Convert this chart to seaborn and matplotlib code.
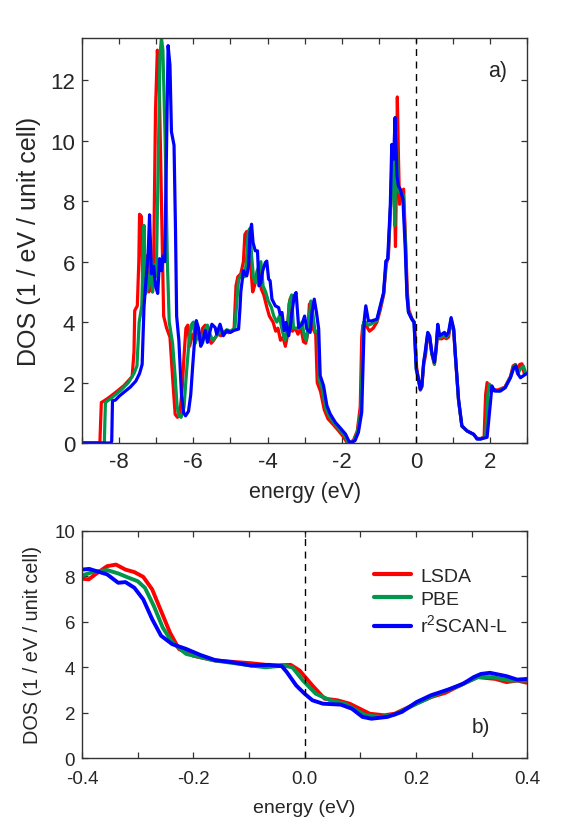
import matplotlib
matplotlib.use('Agg')
import matplotlib.pyplot as plt
import pandas as pd
import seaborn as sns
from matplotlib.ticker import MultipleLocator, FormatStrFormatter

sns.set_theme(style="ticks")
plt.rcParams['font.family'] = ['Liberation Sans', 'DejaVu Sans']
plt.rcParams['mathtext.fontset'] = 'custom'
plt.rcParams['mathtext.rm'] = 'Liberation Sans'
plt.rcParams['axes.unicode_minus'] = False

methods = ['LSDA', 'PBE', r'r$^2$SCAN-L']
colors = ['#ff0000', '#00964b', '#0000ff']

# ---- panel a): wide energy window ----
lsda_e = [-9.0, -8.52, -8.48, -8.40, -8.28, -8.10, -7.87, -7.65, -7.60, -7.58, -7.51, -7.47, -7.45, -7.40,
          -7.36, -7.30, -7.25, -7.20, -7.15, -7.10, -7.07, -7.02, -6.97, -6.92, -6.86, -6.80, -6.72, -6.63,
          -6.55, -6.49, -6.43, -6.37, -6.30, -6.25, -6.20, -6.15, -6.10, -6.02, -5.95, -5.88, -5.82, -5.75,
          -5.68, -5.60, -5.52, -5.45, -5.35, -5.25, -5.15, -5.05, -4.95, -4.90, -4.85, -4.80, -4.72, -4.65,
          -4.61, -4.56, -4.52, -4.45, -4.40, -4.35, -4.28, -4.22, -4.17, -4.10, -4.02, -3.95, -3.85, -3.78,
          -3.72, -3.65, -3.58, -3.52, -3.47, -3.42, -3.38, -3.33, -3.25, -3.18, -3.10, -3.03, -2.97, -2.92,
          -2.87, -2.83, -2.78, -2.70, -2.66, -2.57, -2.47, -2.37, -2.22, -2.08, -1.95, -1.85, -1.78, -1.68,
          -1.58, -1.50, -1.46, -1.43, -1.35, -1.25, -1.15, -1.05, -0.96, -0.87, -0.80, -0.74, -0.68, -0.63,
          -0.58, -0.55, -0.52, -0.50, -0.47, -0.44, -0.40, -0.33, -0.28, -0.23, -0.19, -0.10, -0.04, 0.02,
          0.07, 0.12, 0.16, 0.21, 0.26, 0.32, 0.37, 0.43, 0.50, 0.55, 0.59, 0.64, 0.70, 0.77, 0.82, 0.88,
          0.95, 1.02, 1.06, 1.15, 1.24, 1.38, 1.56, 1.65, 1.75, 1.84, 1.88, 1.92, 2.00, 2.20, 2.40, 2.55,
          2.62, 2.68, 2.74, 2.80, 2.86, 2.92, 3.05]
lsda_d = [0, 0, 1.34, 1.40, 1.50, 1.67, 1.90, 2.20, 3.0, 4.38, 4.54, 6.0, 7.57, 7.50,
          4.87, 5.00, 6.20, 5.0, 5.2, 5.0, 6.0, 11.0, 13.0, 12.0, 8.0, 4.2, 3.8, 3.5,
          2.0, 0.95, 0.85, 0.9, 1.8, 2.9, 3.8, 3.9, 3.2, 3.6, 3.55, 3.7, 3.4, 3.8,
          3.9, 3.5, 3.3, 3.4, 3.6, 3.55, 3.7, 3.65, 3.7, 3.8, 5.2, 5.5, 5.6, 6.0,
          6.9, 7.0, 6.2, 5.8, 5.0, 5.2, 5.7, 5.8, 5.1, 4.9, 4.5, 4.2, 4.0, 3.7,
          3.8, 3.4, 3.5, 3.2, 3.5, 4.6, 4.8, 3.7, 3.8, 3.6, 3.8, 3.35, 3.3, 3.6,
          4.6, 4.4, 3.8, 3.6, 2.0, 1.7, 1.1, 0.8, 0.6, 0.4, 0.2, 0.0, 0.0, 0.1,
          0.4, 1.2, 3.5, 3.9, 3.9, 3.7, 3.8, 4.0, 4.4, 4.9, 5.9, 6.2, 7.9, 9.5,
          8.2, 6.5, 9.0, 11.45, 9.5, 7.9, 8.3, 8.4, 6.7, 5.0, 4.4, 4.1, 4.0, 2.5,
          2.1, 1.75, 1.85, 2.6, 2.9, 3.6, 3.5, 2.95, 2.6, 3.1, 3.8, 3.45, 3.45, 3.5, 3.45, 3.5,
          4.05, 3.7, 2.95, 1.4, 0.55, 0.4, 0.28, 0.15, 0.15, 0.2, 1.6, 2.0, 1.8, 1.75, 1.85, 2.2,
          2.55, 2.6, 2.3, 2.6, 2.62, 2.3, 2.3]

pbe_e = [-9.0, -8.40, -8.37, -8.25, -8.10, -7.95, -7.75, -7.60, -7.52, -7.46, -7.39, -7.36, -7.33, -7.29,
         -7.20, -7.14, -7.10, -7.05, -7.00, -6.95, -6.90, -6.86, -6.82, -6.76, -6.70, -6.65, -6.56, -6.49,
         -6.44, -6.39, -6.33, -6.25, -6.18, -6.12, -6.06, -6.00, -5.95, -5.90, -5.82, -5.75, -5.70, -5.62,
         -5.55, -5.48, -5.40, -5.30, -5.20, -5.10, -5.00, -4.88, -4.82, -4.78, -4.70, -4.62, -4.57, -4.52,
         -4.47, -4.43, -4.38, -4.32, -4.25, -4.18, -4.12, -4.05, -3.98, -3.90, -3.83, -3.75, -3.68, -3.60,
         -3.53, -3.47, -3.40, -3.35, -3.30, -3.22, -3.14, -3.07, -3.00, -2.95, -2.89, -2.83, -2.78, -2.72,
         -2.64, -2.61, -2.53, -2.43, -2.34, -2.20, -2.06, -1.92, -1.83, -1.75, -1.66, -1.57, -1.48, -1.43,
         -1.41, -1.36, -1.28, -1.18, -1.05, -0.96, -0.87, -0.80, -0.75, -0.68, -0.64, -0.60, -0.57, -0.53,
         -0.49, -0.45, -0.41, -0.34, -0.28, -0.24, -0.20, -0.11, -0.05, 0.01, 0.07, 0.12, 0.16, 0.21,
         0.25, 0.32, 0.37, 0.43, 0.50, 0.55, 0.59, 0.64, 0.70, 0.77, 0.82, 0.88, 0.95, 1.02, 1.06, 1.15,
         1.24, 1.38, 1.56, 1.65, 1.75, 1.88, 1.94, 1.98, 2.06, 2.25, 2.40, 2.55, 2.63, 2.70, 2.75, 2.82,
         2.90, 2.96, 3.05]
pbe_d = [0, 0, 1.34, 1.45, 1.6, 1.75, 2.0, 2.3, 2.55, 4.0, 4.54, 6.0, 7.2, 4.94,
         5.2, 6.1, 5.0, 5.9, 5.5, 9.0, 12.8, 13.4, 13.0, 10.0, 6.0, 4.0, 3.3, 2.2,
         1.24, 0.9, 0.85, 1.2, 2.4, 3.3, 3.9, 4.0, 3.3, 3.5, 3.6, 3.3, 3.7, 3.9,
         3.6, 3.4, 3.5, 3.7, 3.6, 3.75, 3.7, 3.8, 4.8, 5.4, 5.6, 5.5, 6.0, 7.0,
         7.1, 6.2, 5.5, 5.3, 5.8, 6.0, 5.2, 5.0, 4.7, 4.5, 4.2, 4.0, 4.2, 3.7,
         3.4, 3.8, 4.7, 4.9, 3.8, 3.8, 3.8, 4.0, 3.5, 3.4, 4.0, 4.7, 4.3, 3.7,
         3.7, 2.1, 1.8, 1.15, 0.9, 0.65, 0.45, 0.25, 0.02, 0.02, 0.1, 0.4, 1.1, 3.4,
         4.0, 4.0, 3.9, 3.95, 4.05, 4.5, 4.95, 6.0, 6.1, 7.9, 9.6, 8.8, 7.2, 10.3,
         8.6, 8.3, 8.3, 8.2, 6.6, 4.9, 4.35, 4.1, 4.0, 2.45, 2.1, 1.78, 1.87, 2.65,
         2.95, 3.62, 3.52, 2.95, 2.62, 3.15, 3.85, 3.5, 3.52, 3.55, 3.5, 3.6, 4.1, 3.75, 2.98, 1.42,
         0.56, 0.4, 0.28, 0.14, 0.14, 0.2, 1.6, 1.95, 1.75, 1.72, 1.84, 2.18, 2.5, 2.58, 2.3, 2.45,
         2.55, 2.3, 2.32]

scan_e = [-9.0, -8.24, -8.20, -8.18, -8.10, -8.00, -7.85, -7.70, -7.55, -7.45, -7.38, -7.33, -7.27, -7.22,
          -7.18, -7.13, -7.07, -7.02, -6.96, -6.91, -6.86, -6.81, -6.77, -6.72, -6.68, -6.63, -6.59, -6.52,
          -6.48, -6.45, -6.39, -6.32, -6.26, -6.21, -6.13, -6.07, -6.02, -5.96, -5.92, -5.86, -5.80, -5.74,
          -5.68, -5.62, -5.55, -5.50, -5.41, -5.37, -5.28, -5.19, -5.10, -5.00, -4.92, -4.78, -4.74, -4.72,
          -4.65, -4.56, -4.51, -4.47, -4.43, -4.39, -4.33, -4.27, -4.23, -4.18, -4.13, -4.06, -4.02, -3.97,
          -3.93, -3.88, -3.79, -3.70, -3.66, -3.61, -3.55, -3.50, -3.43, -3.39, -3.34, -3.28, -3.23, -3.16,
          -3.07, -3.00, -2.94, -2.85, -2.80, -2.74, -2.68, -2.62, -2.58, -2.49, -2.40, -2.31, -2.17, -2.04,
          -1.90, -1.80, -1.73, -1.64, -1.55, -1.46, -1.41, -1.39, -1.35, -1.28, -1.19, -1.05, -0.96, -0.87,
          -0.81, -0.76, -0.69, -0.65, -0.60, -0.56, -0.51, -0.47, -0.42, -0.35, -0.29, -0.24, -0.20, -0.11,
          -0.05, 0.01, 0.07, 0.12, 0.16, 0.21, 0.25, 0.32, 0.37, 0.43, 0.50, 0.55, 0.59, 0.64, 0.70, 0.77,
          0.82, 0.88, 0.95, 1.02, 1.06, 1.15, 1.24, 1.38, 1.56, 1.65, 1.74, 1.92, 2.01, 2.05, 2.12, 2.28,
          2.41, 2.55, 2.64, 2.70, 2.76, 2.82, 2.95, 3.05]
scan_d = [0, 0, 0.05, 1.40, 1.42, 1.55, 1.70, 1.85, 2.05, 2.30, 2.60, 4.50, 5.50, 6.20,
          7.55, 5.60, 5.85, 5.20, 4.95, 6.10, 5.70, 6.20, 6.00, 10.0, 13.15, 12.5, 10.3, 9.85,
          7.00, 4.20, 3.40, 1.60, 1.00, 0.90, 1.05, 1.60, 2.50, 3.50, 4.05, 3.80, 3.20, 3.40,
          3.72, 3.33, 3.70, 3.93, 3.82, 3.60, 3.93, 3.55, 3.72, 3.66, 3.72, 3.77, 4.50, 5.00,
          5.70, 5.53, 5.86, 6.96, 7.24, 6.63, 6.36, 6.36, 5.20, 5.30, 5.70, 5.97, 6.02, 5.42,
          5.37, 4.76, 4.54, 4.48, 4.26, 4.32, 3.72, 3.99, 3.55, 3.82, 4.32, 4.87, 4.98, 3.82,
          3.93, 4.20, 3.77, 3.66, 4.32, 4.76, 4.32, 3.77, 2.23, 1.90, 1.24, 0.96, 0.68, 0.50,
          0.30, 0.05, 0.02, 0.08, 0.35, 1.02, 3.20, 4.10, 4.54, 4.04, 4.04, 4.10, 4.54, 4.98,
          6.02, 6.08, 7.85, 9.88, 9.39, 10.77, 8.84, 8.50, 8.40, 8.07, 6.53, 4.87, 4.32, 4.10,
          3.99, 2.45, 2.11, 1.78, 1.89, 2.67, 3.00, 3.66, 3.55, 3.00, 2.67, 3.22, 3.93, 3.55, 3.60, 3.66,
          3.55, 3.66, 4.15, 3.77, 3.00, 1.45, 0.57, 0.40, 0.29, 0.13, 0.13, 0.19, 1.34, 1.89, 1.72, 1.72,
          1.83, 2.16, 2.49, 2.55, 2.27, 2.16, 2.27, 2.33]

# ---- panel b): zoom around the Fermi level ----
lsda_e_b = [-0.400, -0.388, -0.374, -0.355, -0.339, -0.322, -0.306, -0.290, -0.274, -0.258, -0.242, -0.226,
            -0.200, -0.161, -0.096, -0.058, -0.025, -0.009, 0.014, 0.036, 0.059, 0.081, 0.117, 0.143, 0.162,
            0.194, 0.227, 0.253, 0.285, 0.311, 0.343, 0.363, 0.382, 0.400]
lsda_d_b = [7.89, 7.86, 8.12, 8.44, 8.51, 8.29, 8.18, 7.97, 7.42, 6.47, 5.52, 4.80,
            4.50, 4.29, 4.17, 4.07, 4.10, 3.85, 3.19, 2.61, 2.54, 2.39, 1.95, 1.88, 1.95,
            2.32, 2.68, 2.87, 3.27, 3.56, 3.48, 3.34, 3.41, 3.31]

pbe_e_b = [-0.400, -0.381, -0.355, -0.335, -0.316, -0.300, -0.287, -0.271, -0.255, -0.238, -0.213, -0.161,
           -0.096, -0.070, -0.038, -0.022, -0.003, 0.020, 0.046, 0.072, 0.110, 0.136, 0.162, 0.201, 0.240,
           0.279, 0.311, 0.337, 0.369, 0.400]
pbe_d_b = [8.03, 8.18, 8.27, 8.12, 7.93, 7.78, 7.49, 6.69, 5.74, 5.09, 4.58, 4.29,
           4.07, 3.99, 4.07, 3.99, 3.41, 2.83, 2.54, 2.39, 1.88, 1.81, 1.91, 2.39, 2.83,
           3.19, 3.56, 3.56, 3.41, 3.41]

scan_e_b = [-0.400, -0.387, -0.374, -0.355, -0.335, -0.322, -0.306, -0.290, -0.274, -0.258, -0.238, -0.213,
            -0.187, -0.161, -0.129, -0.096, -0.064, -0.041, -0.032, -0.015, 0.000, 0.014, 0.033, 0.065, 0.085,
            0.104, 0.120, 0.149, 0.175, 0.201, 0.227, 0.259, 0.285, 0.304, 0.317, 0.333, 0.363, 0.382, 0.400]
scan_d_b = [8.29, 8.32, 8.22, 8.08, 7.71, 7.74, 7.49, 6.98, 6.11, 5.38, 5.01, 4.80,
            4.53, 4.31, 4.21, 4.07, 4.10, 4.04, 3.78, 3.19, 2.83, 2.54, 2.39, 2.35, 2.17,
            1.81, 1.73, 1.81, 2.03, 2.46, 2.76, 3.02, 3.27, 3.56, 3.70, 3.75, 3.60, 3.45, 3.48]


def long_form(series):
    frames = []
    for name, e, d in series:
        frames.append(pd.DataFrame({'energy': e, 'dos': d, 'method': name}))
    return pd.concat(frames, ignore_index=True)


df_a = long_form([(methods[0], lsda_e, lsda_d), (methods[1], pbe_e, pbe_d), (methods[2], scan_e, scan_d)])
df_b = long_form([(methods[0], lsda_e_b, lsda_d_b), (methods[1], pbe_e_b, pbe_d_b),
                  (methods[2], scan_e_b, scan_d_b)])
palette = dict(zip(methods, colors))

fig = plt.figure(figsize=(5.62, 8.29), dpi=100)
ax1 = fig.add_axes([0.146, 0.4644, 0.792, 0.4885])
ax2 = fig.add_axes([0.146, 0.0844, 0.792, 0.2742])


def style_axes(ax, fs, xpad):
    for sp in ax.spines.values():
        sp.set_color('#333333')
        sp.set_linewidth(1.0)
    ax.tick_params(which='both', direction='in', top=True, right=True, length=4.5,
                   width=0.9, color='#333333', labelsize=fs, pad=5)
    ax.tick_params(axis='x', which='both', pad=xpad)


sns.lineplot(data=df_a, x='energy', y='dos', hue='method', palette=palette, sort=False,
             estimator=None, lw=2.3, ax=ax1, legend=False)
ax1.axvline(0, color='black', ls=(0, (5, 4)), lw=1.0)
ax1.set_xlim(-9, 3)
ax1.set_ylim(0, 13.4)
ax1.xaxis.set_major_locator(MultipleLocator(2))
ax1.xaxis.set_minor_locator(MultipleLocator(1))
ax1.yaxis.set_major_locator(MultipleLocator(2))
style_axes(ax1, 16, 6)
ax1.set_xlabel('energy (eV)', fontsize=15.5, labelpad=6)
ax1.set_ylabel('DOS (1 / eV / unit cell)', fontsize=18, labelpad=7)
ax1.text(0.955, 0.92, 'a)', transform=ax1.transAxes, ha='right', va='center', fontsize=15.5)

sns.lineplot(data=df_b, x='energy', y='dos', hue='method', palette=palette, sort=False,
             estimator=None, lw=2.8, ax=ax2)
ax2.axvline(0, color='black', ls=(0, (5, 4)), lw=1.0)
ax2.set_xlim(-0.4, 0.4)
ax2.set_ylim(0, 10)
ax2.xaxis.set_major_locator(MultipleLocator(0.2))
ax2.xaxis.set_minor_locator(MultipleLocator(0.1))
ax2.yaxis.set_major_locator(MultipleLocator(2))
ax2.xaxis.set_major_formatter(FormatStrFormatter('%.1f'))
style_axes(ax2, 13.5, 8.5)
ax2.set_xlabel('energy (eV)', fontsize=14, labelpad=9)
ax2.set_ylabel('DOS (1 / eV / unit cell)', fontsize=14.3, labelpad=9)
ax2.text(0.917, 0.14, 'b)', transform=ax2.transAxes, ha='right', va='center', fontsize=15)
leg = ax2.legend(loc='upper left', bbox_to_anchor=(0.655, 0.84), frameon=False, fontsize=14,
                 handlelength=1.9, handletextpad=0.5, labelspacing=0.3, borderaxespad=0,
                 borderpad=0)
for line in leg.get_lines():
    line.set_linewidth(3.0)

fig.savefig('out.png', dpi=100)
plt.close(fig)
